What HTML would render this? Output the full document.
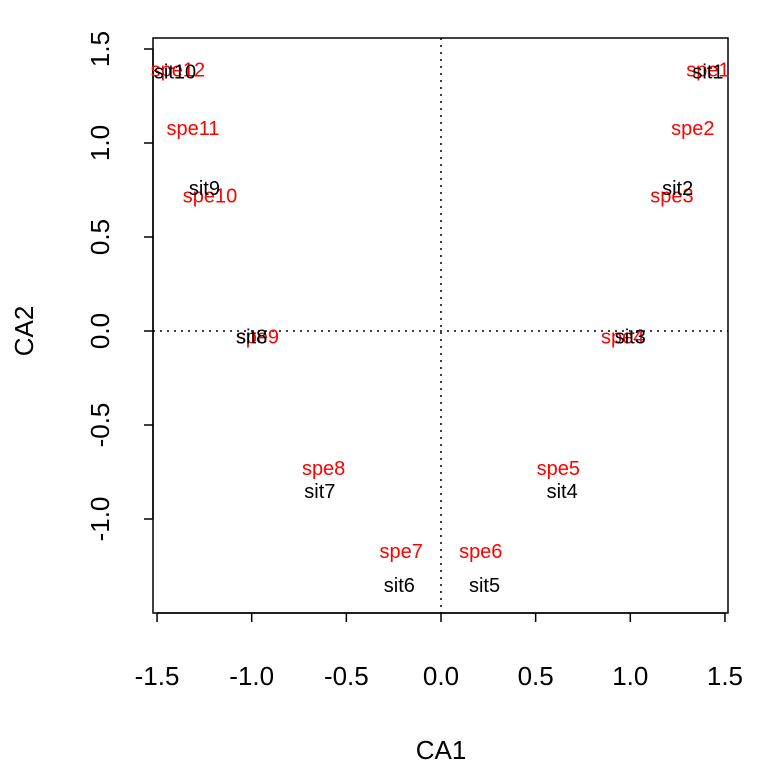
<!DOCTYPE html>
<html><head><meta charset="utf-8"><style>body{margin:0;background:#fff}svg{display:block;font-family:"Liberation Sans",Arial,sans-serif}</style></head>
<body>
<svg id="c" width="768" height="768"></svg>
<script>
const siteNames=["sit1","sit2","sit3","sit4","sit5","sit6","sit7","sit8","sit9","sit10"];
const siteX=[1.41,1.25,1.0,0.64,0.23,-0.22,-0.64,-1.0,-1.25,-1.405];
const siteY=[1.38,0.76,-0.03,-0.85,-1.35,-1.35,-0.85,-0.03,0.76,1.38];
const speNames=["spe1","spe2","spe3","spe4","spe5","spe6","spe7","spe8","spe9","spe10","spe11","spe12"];
const speX=[1.41,1.33,1.22,0.96,0.62,0.21,-0.21,-0.62,-0.97,-1.22,-1.31,-1.39];
const speY=[1.39,1.08,0.72,-0.03,-0.73,-1.17,-1.17,-0.73,-0.03,0.72,1.08,1.39];
const xTicks=[-1.5,-1.0,-0.5,0.0,0.5,1.0,1.5];
const yTicks=[-1.0,-0.5,0.0,0.5,1.0,1.5];
const sx=v=>441+v*189.3, sy=v=>331-v*188;
const svg=document.getElementById('c');const NS="http://www.w3.org/2000/svg";
function mk(t,a,txt){const e=document.createElementNS(NS,t);for(const k in a)e.setAttribute(k,a[k]);if(txt!==undefined)e.textContent=txt;svg.appendChild(e);return e;}
let e;
e=mk('rect',{x:153,y:38,width:575,height:575,fill:'none',stroke:'#000','stroke-width':1.5});


e=mk('line',{x1:153,x2:728,y1:sy(0),y2:sy(0),stroke:'#000','stroke-dasharray':'2,5','stroke-width':1.5});


e=mk('line',{x1:sx(0),x2:sx(0),y1:38,y2:613,stroke:'#000','stroke-dasharray':'2,5','stroke-width':1.5});


e=mk('line',{x1:sx(-1.5),x2:sx(1.5),y1:613,y2:613,stroke:'#000','stroke-width':1.5});


xTicks.forEach(t=>{
 e=mk('line',{x1:sx(t),x2:sx(t),y1:613,y2:622,stroke:'#000','stroke-width':1.5});
 
 
 e=mk('text',{x:sx(t),y:685,'font-size':26,'text-anchor':'middle'},t.toFixed(1));
 
 
});
e=mk('line',{x1:153,x2:153,y1:sy(-1.0),y2:sy(1.5),stroke:'#000','stroke-width':1.5});


yTicks.forEach(t=>{
 e=mk('line',{x1:144,x2:153,y1:sy(t),y2:sy(t),stroke:'#000','stroke-width':1.5});
 
 
 e=mk('text',{x:0,y:0,'font-size':26,'text-anchor':'middle',transform:`translate(109,${sy(t)}) rotate(-90)`},t.toFixed(1));
 
 
});
e=mk('text',{x:441,y:759,'font-size':26,'text-anchor':'middle'},'CA1');


e=mk('text',{x:0,y:0,'font-size':26,'text-anchor':'middle',transform:'translate(33,331) rotate(-90)'},'CA2');


speNames.forEach((n,i)=>{
 e=mk('text',{x:sx(speX[i]),y:sy(speY[i])+7,'font-size':20,'text-anchor':'middle',fill:'#ff0000'},n);
 
 
});
siteNames.forEach((n,i)=>{
 e=mk('text',{x:sx(siteX[i]),y:sy(siteY[i])+7,'font-size':20,'text-anchor':'middle',fill:'#000'},n);
 
 
});
</script>
</body></html>
